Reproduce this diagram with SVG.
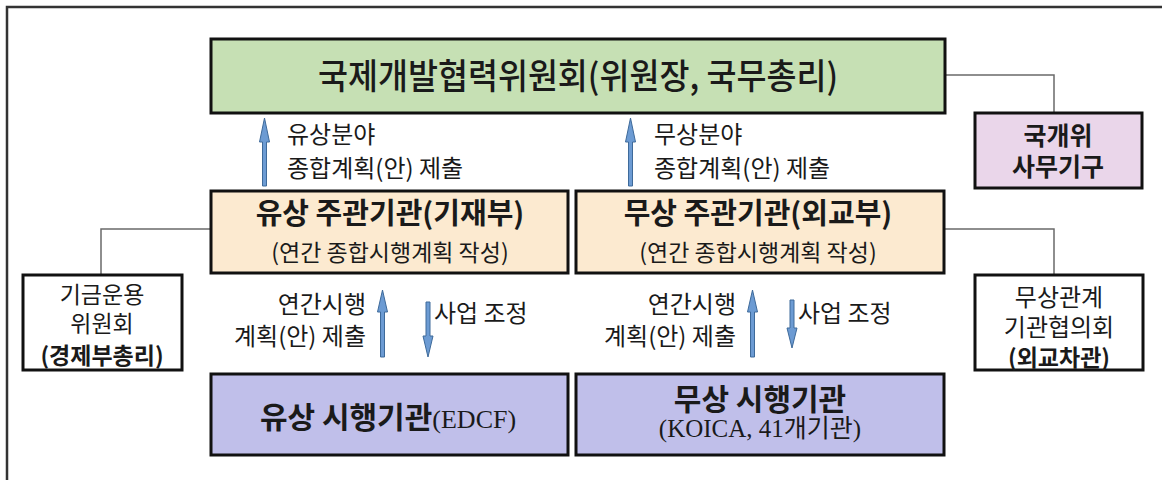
<svg xmlns="http://www.w3.org/2000/svg" width="1162" height="480" viewBox="0 0 1162 480">
<style>
.box{stroke:#111;stroke-width:3}
.t{font-family:"Noto Sans CJK KR","Noto Sans",sans-serif;fill:#1a1a1a}
.b{font-weight:bold}
.m{text-anchor:middle}
.e{text-anchor:end}
.sf{font-family:"Liberation Serif","Noto Sans CJK KR",serif;font-weight:normal}
.conn{fill:none;stroke:#6a6a6a;stroke-width:1.5}
.arr{fill:#6C9BD3;stroke:#3E6A9A;stroke-width:1}
</style>
<rect width="1162" height="480" fill="#fff"/>
<g id="frame">
<path d="M7,480 V7 H1162" fill="none" stroke="#333" stroke-width="2.5"/>
</g>
<g id="connectors">
<path class="conn" d="M945,75 H1054 V113"/>
<path class="conn" d="M944,229 H1054 V275"/>
<path class="conn" d="M211,229 H101 V275"/>
<path class="arr" d="M262.5,186 V142 H259.5 L264.5,118 L269.5,142 H266.5 V186 Z"/>
<path class="arr" d="M628.5,186 V142 H625.5 L630.5,118 L635.5,142 H632.5 V186 Z"/>
<path class="arr" d="M380.5,357 V312 H377.5 L382.5,290 L387.5,312 H384.5 V357 Z"/>
<path class="arr" d="M426,302 V336 H423 L428,357 L433,336 H430 V302 Z"/>
<path class="arr" d="M750.5,357 V312 H747.5 L752.5,290 L757.5,312 H754.5 V357 Z"/>
<path class="arr" d="M790,300 V328 H787 L792,348 L797,328 H794 V300 Z"/>
</g>
<g id="labels">
<text class="t" x="287" y="143" font-size="24">유상분야</text>
<text class="t" x="287" y="177" font-size="24">종합계획(안) 제출</text>
<text class="t" x="654" y="143" font-size="24">무상분야</text>
<text class="t" x="654" y="177" font-size="24">종합계획(안) 제출</text>
<text class="t e" x="366" y="313" font-size="24">연간시행</text>
<text class="t e" x="366" y="345" font-size="24">계획(안) 제출</text>
<text class="t" x="434" y="322" font-size="24">사업 조정</text>
<text class="t e" x="736" y="313" font-size="24">연간시행</text>
<text class="t e" x="736" y="345" font-size="24">계획(안) 제출</text>
<text class="t" x="798" y="322" font-size="24">사업 조정</text>
</g>
<g id="committee">
<rect class="box" x="211" y="39" width="734" height="74" fill="#C6E0B4"/>
<text class="t m" x="578" y="89" font-size="35" font-weight="500" textLength="520" lengthAdjust="spacingAndGlyphs">국제개발협력위원회(위원장, 국무총리)</text>
</g>
<g id="secretariat">
<rect class="box" x="975" y="113" width="167" height="75" fill="#EAD6EA"/>
<text class="t b m" x="1058" y="145" font-size="25">국개위</text>
<text class="t b m" x="1058" y="176" font-size="25">사무기구</text>
</g>
<g id="loan-ministry">
<rect class="box" x="211" y="191" width="357" height="82" fill="#FCEAD0"/>
<text class="t b m" x="390" y="224" font-size="29">유상 주관기관(기재부)</text>
<text class="t m" x="390" y="261" font-size="23">(연간 종합시행계획 작성)</text>
</g>
<g id="grant-ministry">
<rect class="box" x="576" y="191" width="368" height="82" fill="#FCEAD0"/>
<text class="t b m" x="758" y="224" font-size="29">무상 주관기관(외교부)</text>
<text class="t m" x="758" y="261" font-size="23">(연간 종합시행계획 작성)</text>
</g>
<g id="fund-committee">
<rect class="box" x="23" y="275" width="159" height="95" fill="#fff"/>
<text class="t m" x="102" y="303" font-size="23">기금운용</text>
<text class="t m" x="102" y="332" font-size="23">위원회</text>
<text class="t b m" x="102" y="364" font-size="23">(경제부총리)</text>
</g>
<g id="grant-council">
<rect class="box" x="975" y="275" width="168" height="95" fill="#fff"/>
<text class="t m" x="1059" y="306" font-size="24">무상관계</text>
<text class="t m" x="1059" y="336" font-size="24">기관협의회</text>
<text class="t b m" x="1059" y="366" font-size="23">(외교차관)</text>
</g>
<g id="loan-agency">
<rect class="box" x="211" y="374" width="357" height="81" fill="#C0BFEA"/>
<text class="t b m" x="388" y="428" font-size="30">유상 시행기관<tspan class="sf" font-size="26">(EDCF)</tspan></text>
</g>
<g id="grant-agency">
<rect class="box" x="576" y="374" width="368" height="81" fill="#C0BFEA"/>
<text class="t b m" x="760" y="410" font-size="30">무상 시행기관</text>
<text class="t m sf" x="760" y="437" font-size="25">(KOICA, 41개기관)</text>
</g>
</svg>
